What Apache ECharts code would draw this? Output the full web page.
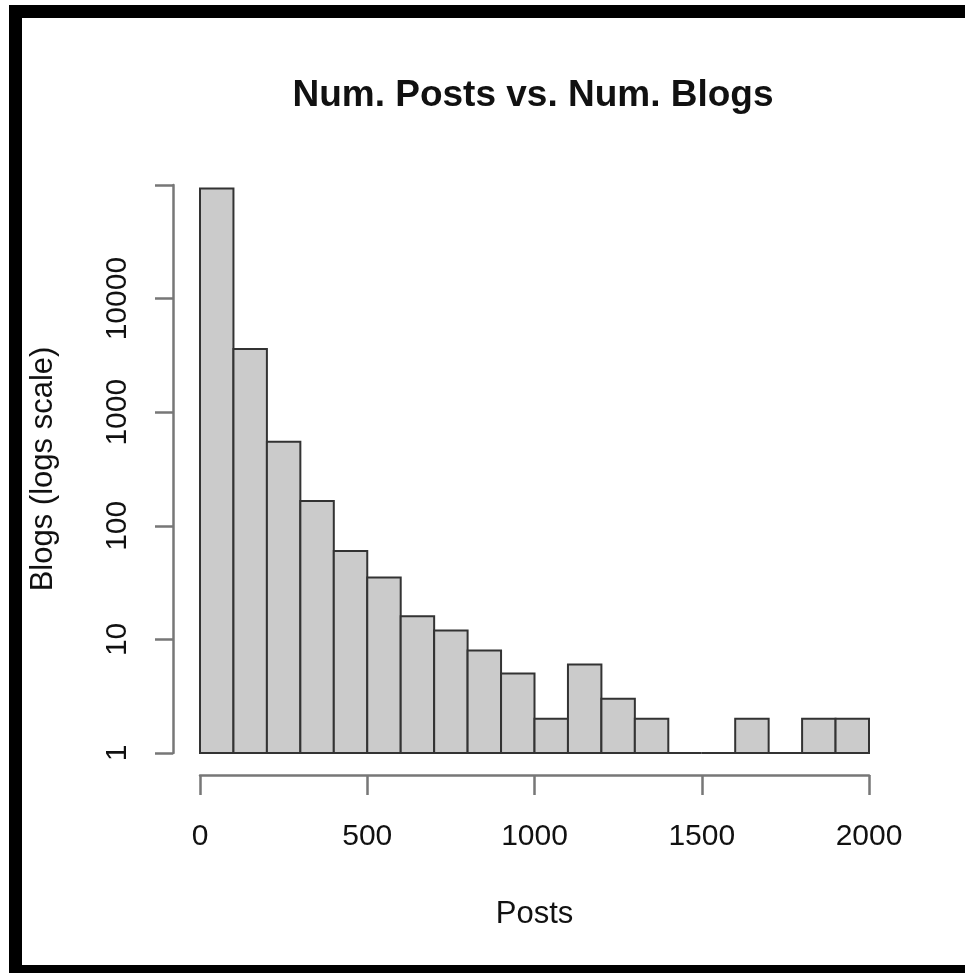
<!DOCTYPE html>
<html>
<head>
<meta charset="utf-8">
<title>Num. Posts vs. Num. Blogs</title>
<script src="https://cdn.jsdelivr.net/npm/echarts@6/dist/echarts.min.js"></script>
<style>
  html, body { margin: 0; padding: 0; background: #fff; }
  #chart { width: 965px; height: 973px; }
</style>
</head>
<body>
<div id="chart"></div>
<script>
// histogram bins (posts), 100 wide each
const binStart = [0, 100, 200, 300, 400, 500, 600, 700, 800, 900, 1000, 1100, 1200, 1300, 1400, 1500, 1600, 1700, 1800, 1900];
const binEnd   = [100, 200, 300, 400, 500, 600, 700, 800, 900, 1000, 1100, 1200, 1300, 1400, 1500, 1600, 1700, 1800, 1900, 2000];
// number of blogs in each bin
const blogCounts = [93000, 3600, 550, 165, 60, 35, 16, 12, 8, 5, 2, 6, 3, 2, 1, 1, 2, 1, 2, 2];
const xTicks = [0, 500, 1000, 1500, 2000];
const yTicks = [1, 10, 100, 1000, 10000];

const FONT = "'Liberation Sans', Arial, Helvetica, sans-serif";

let chart = echarts.init(document.getElementById('chart'));

let histData = binStart.map(function (s, i) { return [s, binEnd[i], blogCounts[i]]; });

let option = {
    animation: false,
    backgroundColor: '#fff',
    title: {
        text: 'Num. Posts vs. Num. Blogs',
        left: 528,
        top: 72,
        textAlign: 'center',
        textStyle: {
            fontFamily: FONT,
            fontSize: 37,
            fontWeight: 'bold',
            color: '#111'
        }
    },
    grid: {
        left: 200,
        right: 96,
        top: 185,
        bottom: 220
    },
    xAxis: {
        type: 'value',
        min: 0,
        max: 2000,
        interval: 500,
        offset: 22,
        name: 'Posts',
        nameLocation: 'middle',
        nameGap: 124,
        nameTextStyle: { fontFamily: FONT, fontSize: 31, color: '#111' },
        axisLine: { show: true, onZero: false, lineStyle: { color: '#777', width: 2.5 } },
        axisTick: { show: true, length: 20, lineStyle: { color: '#777', width: 2.5 } },
        axisLabel: {
            margin: 47,
            fontFamily: FONT,
            fontSize: 30,
            color: '#111',
            formatter: function (v) { return xTicks.indexOf(v) >= 0 ? String(v) : ''; }
        },
        splitLine: { show: false }
    },
    yAxis: {
        type: 'log',
        logBase: 10,
        min: 1,
        max: 100000,
        offset: 27,
        name: 'Blogs (logs scale)',
        nameLocation: 'middle',
        nameGap: 114,
        nameTextStyle: { fontFamily: FONT, fontSize: 31, color: '#111' },
        axisLine: { show: true, onZero: false, lineStyle: { color: '#777', width: 2.5 } },
        axisTick: { show: true, length: 18, lineStyle: { color: '#777', width: 2.5 } },
        axisLabel: {
            rotate: 90,
            margin: 40,
            fontFamily: FONT,
            fontSize: 30,
            color: '#111',
            // R leaves the top tick (1e+05) unlabelled
            formatter: function (v) { return yTicks.indexOf(v) >= 0 ? String(v) : ''; }
        },
        splitLine: { show: false }
    },
    series: [{
        type: 'custom',
        data: histData,
        encode: { x: [0, 1], y: 2 },
        renderItem: function (params, api) {
            let topLeft = api.coord([api.value(0), api.value(2)]);
            let bottomRight = api.coord([api.value(1), 1]);
            return {
                type: 'rect',
                shape: {
                    x: topLeft[0],
                    y: topLeft[1],
                    width: bottomRight[0] - topLeft[0],
                    height: bottomRight[1] - topLeft[1]
                },
                style: { fill: '#cbcbcb', stroke: '#333', lineWidth: 2 }
            };
        }
    }],
    // black frame of the screenshot
    graphic: [
        { type: 'rect', shape: { x: 9, y: 5, width: 956, height: 13 }, style: { fill: '#000' } },
        { type: 'rect', shape: { x: 9, y: 5, width: 13, height: 968 }, style: { fill: '#000' } },
        { type: 'rect', shape: { x: 9, y: 965, width: 956, height: 8 }, style: { fill: '#000' } }
    ]
};

chart.setOption(option);
window.addEventListener('resize', function () { chart.resize(); });
</script>
</body>
</html>
